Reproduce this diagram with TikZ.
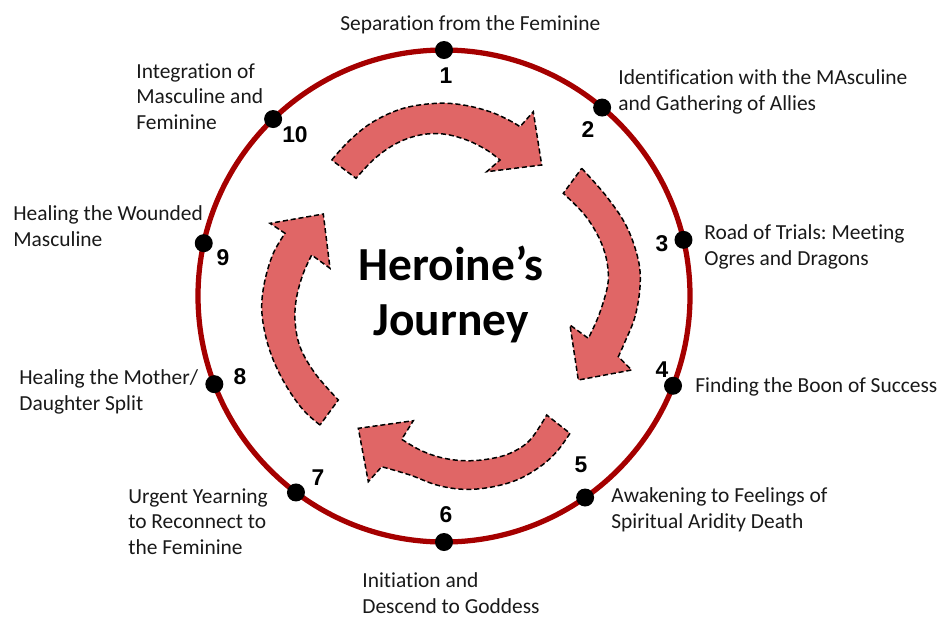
\documentclass[tikz,border=0pt]{standalone}
\usepackage{fontspec}
\setmainfont{Carlito}[Ligatures=NoCommon]
\newfontfamily\numfont{Liberation Sans}
\definecolor{ringred}{RGB}{165,0,0}
\definecolor{arrowred}{RGB}{224,102,102}
\definecolor{textgray}{RGB}{25,25,25}
\usetikzlibrary{calc}
\frenchspacing
\begin{document}
\begin{tikzpicture}[x=0.02cm,y=-0.02cm,
  ring/.style={draw=ringred, line width=0.105cm},
  stop/.style={circle, fill=black, minimum size=0.36cm, inner sep=0pt},
  num/.style={font=\numfont\bfseries\fontsize{13}{13}\selectfont, inner sep=0pt},
  % multi-line nodes: the base anchor sits on the last line
  stagetext/.style={font=\fontsize{12.2}{14.4}\selectfont, align=left, anchor=base west, inner sep=0pt, text=textgray},
  headline/.style={font=\bfseries\fontsize{27}{31}\selectfont, align=center, anchor=base, inner sep=0pt},
  arrowband/.style={fill=arrowred, draw=black, line width=0.85pt, dash pattern=on 2.9pt off 1.6pt, line join=miter}
]
\useasboundingbox (0,0) rectangle (943,620);

% curved arrows around the title
\filldraw[arrowband]
  plot[smooth, tension=0.6] coordinates {(331.7,160) (350,140) (373.3,121.7) (403.3,108.3) (436.7,103.3) (463.3,105) (490,111.7) (510,120.7) (520,126.7)}
  -- (533.3,111.7) -- (541.7,165) -- (486.7,171.7) -- (500,160)
  -- plot[smooth, tension=0.6] coordinates {(500,160) (486.7,150) (466.7,140) (443.3,134) (420,135) (396.7,143.3) (375,158.3) (356,178.3)}
  -- cycle;
\filldraw[arrowband]
  plot[smooth, tension=0.6] coordinates {(581.7,168.3) (606.7,196.7) (626.7,226.7) (638.3,260) (640,286.7) (635,316.7) (625,341.7) (618.3,356.7)}
  -- (631.7,370) -- (578.3,380) -- (570,325) -- (588.3,338.3)
  -- plot[smooth, tension=0.6] coordinates {(588.3,338.3) (598.3,316.7) (606.7,290) (608.3,273.3) (605,253.3) (596.7,233.3) (583.3,213.3) (563.3,193.3)}
  -- cycle;
\filldraw[arrowband]
  plot[smooth, tension=0.6] coordinates {(570,433.3) (556.7,451.7) (540,466.7) (516.7,480) (490,487.3) (463.3,489.3) (436.7,485) (410,475) (381.7,466.7)}
  -- (368.3,481.7) -- (358.3,428.3) -- (413.3,420.7) -- (401.7,439.3)
  -- plot[smooth, tension=0.6] coordinates {(401.7,439.3) (420,450) (440,457.3) (463.3,460.7) (486.7,459.3) (510,453.3) (530,440) (546.7,415)}
  -- cycle;
\filldraw[arrowband]
  plot[smooth, tension=0.6] coordinates {(320,425) (303.3,410) (286.7,386.7) (273.3,360) (265,333.3) (261.7,306.7) (265,280) (273.3,253.3) (285,233.3)}
  -- (270,223.3) -- (323.3,214) -- (330,268.3) -- (311.7,255)
  -- plot[smooth, tension=0.6] coordinates {(311.7,255) (303.3,273.3) (296.7,296.7) (295,320) (300,346.7) (315,373.3) (338.3,400)}
  -- cycle;

\node[headline] (title) at (451,335) {Heroine’s\\Journey};

% the journey circle and its ten stages
\coordinate (C) at (444,296);
\draw[ring] (C) circle (246);
\foreach \i/\a in {1/-90, 2/-50, 3/-13.2, 4/21.4, 5/55, 6/90, 7/127, 8/159, 9/-167.6, 10/-134}
  \node[stop] (s\i) at ($(C)+(\a:246)$) {};

\node[num] (n1) at (446,76) {1};
\node[num] (n2) at (588,130) {2};
\node[num] (n3) at (662,244) {3};
\node[num] (n4) at (662,370) {4};
\node[num] (n5) at (581,465) {5};
\node[num] (n6) at (446,515) {6};
\node[num] (n7) at (318,478) {7};
\node[num] (n8) at (240,377) {8};
\node[num] (n9) at (223,258) {9};
\node[num] (n10) at (295,135) {10};

\node[stagetext] (t1) at (340,30) {Separation from the Feminine};
\node[stagetext] (t2) at (618,110) {Identification with the MAsculine\\and Gathering of Allies};
\node[stagetext] (t3) at (704,265) {Road of Trials: Meeting\\Ogres and Dragons};
\node[stagetext] (t4) at (695,392) {Finding the Boon of Success};
\node[stagetext] (t5) at (611,528) {Awakening to Feelings of\\Spiritual Aridity Death};
\node[stagetext] (t6) at (362,613) {Initiation and\\Descend to Goddess};
\node[stagetext] (t7) at (128,554) {Urgent Yearning\\to Reconnect to\\the Feminine};
\node[stagetext] (t8) at (19,410) {Healing the Mother/\\Daughter Split};
\node[stagetext] (t9) at (13,246) {Healing the Wounded\\Masculine};
\node[stagetext] (t10) at (136,129) {Integration of\\Masculine and\\Feminine};
\end{tikzpicture}
\end{document}
